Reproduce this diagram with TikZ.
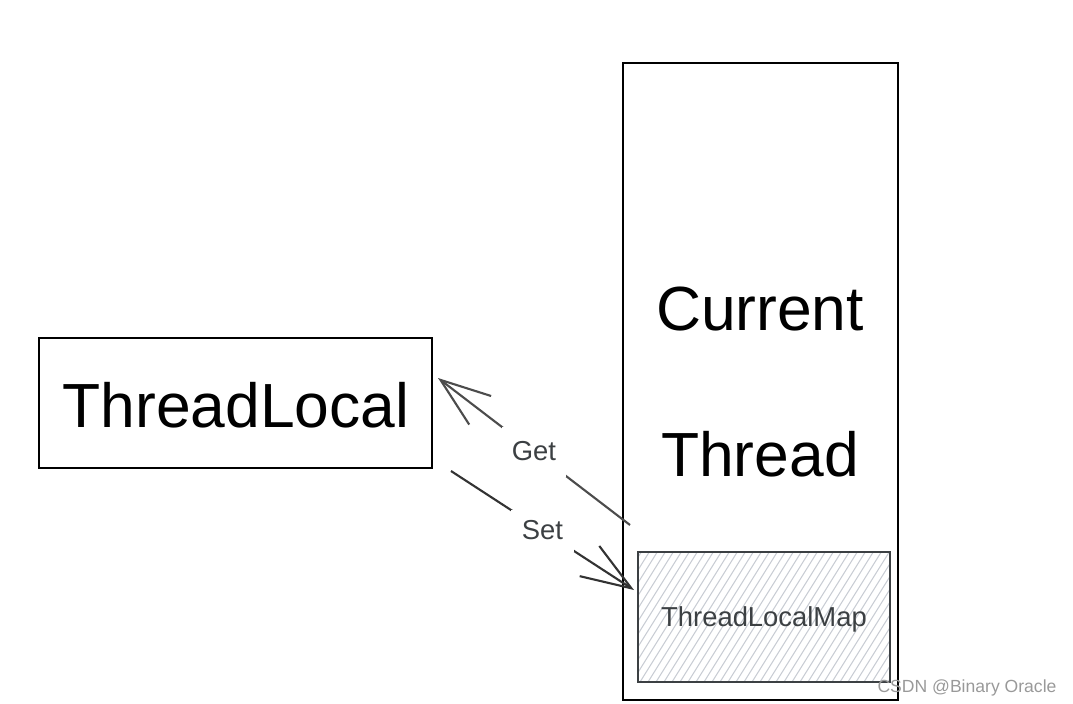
\documentclass[tikz,border=0pt]{standalone}
\usepackage{fontspec}
\setmainfont{Liberation Sans}
\usetikzlibrary{arrows.meta}
\definecolor{hatchc}{HTML}{C9CDD4}
\definecolor{labc}{HTML}{3C4043}
\tikzset{
  box/.style={draw=black, line width=1.3pt, inner sep=0pt, outer sep=0pt},
  bigtxt/.style={font=\fontsize{35.5}{40}\selectfont, inner sep=0pt, anchor=base},
  smalltxt/.style={font=\fontsize{15.6}{18}\selectfont, text=labc, inner sep=0pt, anchor=base},
  conn/.style={line width=1.2pt, -{Straight Barb[length=10mm, width=7.2mm, line width=1.2pt]}},
  gap/.style={fill=white, inner sep=0pt, font=\fontsize{15.6}{18}\selectfont, text=labc},
  hatch/.style={draw=hatchc, line width=0.6pt}
}
\begin{document}
\begin{tikzpicture}[x=0.02cm,y=-0.02cm]
\useasboundingbox (0,0) rectangle (1073,704);
% boxes
\node[box, minimum width=7.86cm, minimum height=2.6cm] (tl) at (235.5,403) {};
\node[box, minimum width=5.5cm, minimum height=12.74cm] (thread) at (760.5,381.5) {};
% hatched map
\begin{scope}
  \clip (638,552) rectangle (890,682);
  \foreach \x in {520,528,...,900} \draw[hatch] (\x,682) -- ++(90,-144);
\end{scope}
\node[box, draw=labc, minimum width=5.04cm, minimum height=2.6cm] (map) at (764,617) {};
% texts
\node[bigtxt] (tltxt) at (236,427) {ThreadLocal};
\node[bigtxt] (cur) at (760,330) {Current};
\node[bigtxt] (thr) at (760,476) {Thread};
\node[smalltxt] (maptxt) at (764,626) {ThreadLocalMap};
% connectors
\coordinate (getS) at (630,525);
\coordinate (getE) at (438,378);
\coordinate (setS) at (451,471);
\coordinate (setE) at (634,590);
\draw[conn, draw=black!70] (getS) -- (getE)
  node[gap, midway, minimum width=1.3cm, minimum height=1.0cm] (get) {Get};
\draw[conn, draw=black!80] (setS) -- (setE)
  node[gap, midway, minimum width=1.28cm, minimum height=0.84cm] (set) {Set};
% watermark
\node[font=\fontsize{10}{12}\selectfont, text=black!40, inner sep=0pt, anchor=base] (wm) at (967,692) {CSDN @Binary Oracle};
\end{tikzpicture}
\end{document}
